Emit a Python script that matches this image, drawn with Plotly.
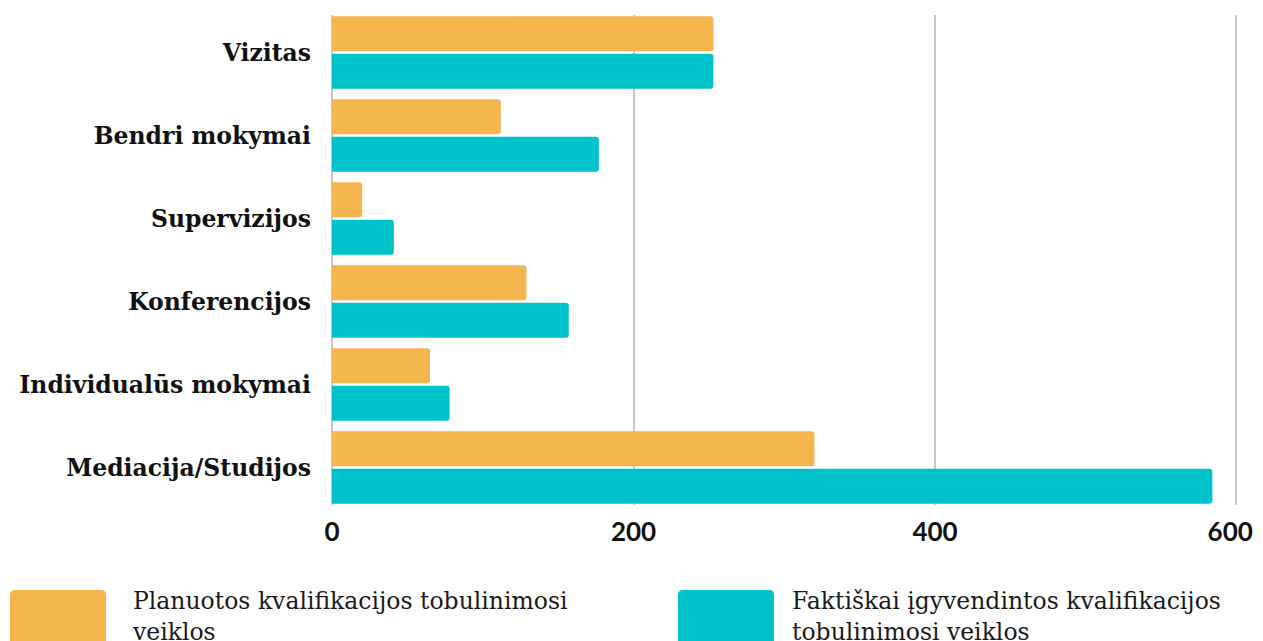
import plotly.graph_objects as go

categories = ["Vizitas", "Bendri mokymai", "Supervizijos", "Konferencijos",
              "Individualūs mokymai", "Mediacija/Studijos"]
planned = [253, 112, 20, 129, 65, 320]
actual = [253, 177, 41, 157, 78, 584]
series_names = ["Planuotos kvalifikacijos tobulinimosi veiklos",
                "Faktiškai įgyvendintos kvalifikacijos tobulinimosi veiklos"]
legend_labels = ["Planuotos kvalifikacijos tobulinimosi<br>veiklos",
                 "Faktiškai įgyvendintos kvalifikacijos<br>tobulinimosi veiklos"]
x_ticks = [0, 200, 400, 600]
x_ticktext = ["0", "200", "400", "600\u00a0\u00a0"]

ORANGE = "#F4B54E"
TEAL = "#00C2CB"
GRID = "#C8C8C8"

OFF = 8  # page body margin
W, H = 1263 - OFF, 641 - OFF
PW, PH = 906, 490
ML, MT = 332 - OFF, 15 - OFF
MR, MB = W - ML - PW, H - MT - PH

fig = go.Figure()
fig.add_trace(go.Bar(y=categories, x=planned, orientation="h", name=series_names[0],
                     marker=dict(color=ORANGE, line=dict(width=0), cornerradius=3)))
fig.add_trace(go.Bar(y=categories, x=actual, orientation="h", name=series_names[1],
                     marker=dict(color=TEAL, line=dict(width=0), cornerradius=3)))

def px2paper(px, py):
    # page pixel coords -> paper coords
    return (px - OFF - ML) / PW, (H - MB - (py - OFF)) / PH

def rounded_rect(x0, y0, x1, y1, r):
    def P(px, py):
        a, b = px2paper(px, py)
        return f"{a:.5f},{b:.5f}"
    return (f"M {P(x0 + r, y0)} L {P(x1 - r, y0)} Q {P(x1, y0)} {P(x1, y0 + r)} "
            f"L {P(x1, y1 - r)} Q {P(x1, y1)} {P(x1 - r, y1)} L {P(x0 + r, y1)} "
            f"Q {P(x0, y1)} {P(x0, y1 - r)} L {P(x0, y0 + r)} Q {P(x0, y0)} {P(x0 + r, y0)} Z")

swatches = [(10, 106, ORANGE, 130), (678, 774, TEAL, 790)]
for (sx0, sx1, col, tx), lab in zip(swatches, legend_labels):
    fig.add_shape(type="path", xref="paper", yref="paper",
                  path=rounded_rect(sx0, 590, sx1, 660, 5),
                  fillcolor=col, line=dict(width=0), layer="above")
    ax, ay = px2paper(tx, 585)
    fig.add_annotation(x=ax, y=ay, xref="paper", yref="paper", text=lab,
                       showarrow=False, xanchor="left", yanchor="top", align="left",
                       font=dict(family="DejaVu Serif", size=23.5, color="#1a1a1a"))

fig.update_layout(
    width=W, height=H,
    margin=dict(l=ML, r=MR, t=MT, b=MB, autoexpand=False),
    plot_bgcolor="white", paper_bgcolor="white",
    barmode="group", bargap=0.095, bargroupgap=0.067,
    showlegend=False,
)
fig.update_xaxes(range=[0, 601], tickvals=x_ticks, ticktext=x_ticktext,
                 showgrid=True, gridcolor=GRID, gridwidth=2,
                 zeroline=True, zerolinecolor=GRID, zerolinewidth=2,
                 showline=False, ticks="", ticklabelstandoff=9,
                 ticklabeloverflow="allow",
                 tickfont=dict(family="Lato", size=26, color="#111111", weight="bold"))
fig.update_yaxes(categoryorder="array", categoryarray=categories,
                 range=[5.4525, -0.4525], showgrid=False, zeroline=False,
                 showline=False, ticks="", ticklabelstandoff=20,
                 tickfont=dict(family="DejaVu Serif", size=23.5, color="#111111", weight="bold"))

fig.write_html("out.html")
